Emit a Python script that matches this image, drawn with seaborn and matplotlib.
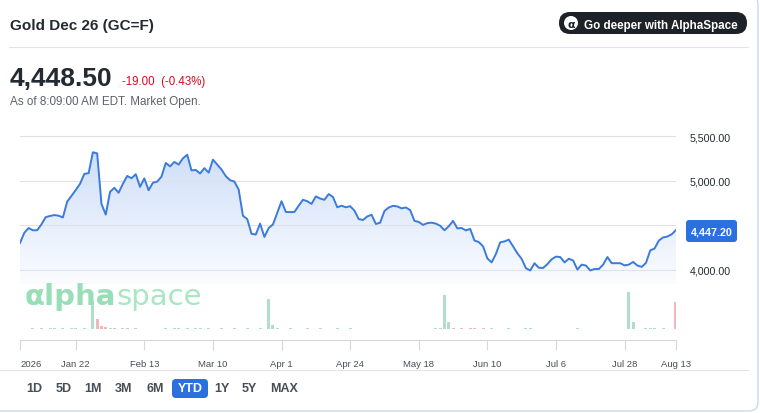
import numpy as np
import pandas as pd
import seaborn as sns
import matplotlib.pyplot as plt
from matplotlib.patches import FancyBboxPatch, Circle
from matplotlib.colors import LinearSegmentedColormap

# ---- data -------------------------------------------------------------
# one settle per trading day, Jan 2 .. Aug 13 2026
price = [
    4302, 4416, 4470, 4445, 4445, 4510, 4592, 4605, 4615, 4608,
    4588, 4765, 4830, 4895, 4965, 5076, 5084, 5318, 5305, 4740,
    4620, 4874, 4920, 4865, 4965, 5053, 5027, 5072, 4931, 5025,
    4893, 4977, 4989, 5046, 5198, 5160, 5210, 5180, 5250, 5290,
    5115, 5120, 5080, 5140, 5090, 5235, 5180, 5125, 5050, 5005,
    4990, 4900, 4607, 4570, 4405, 4397, 4520, 4370, 4470, 4510,
    4640, 4770, 4650, 4648, 4650, 4720, 4786, 4770, 4740, 4824,
    4800, 4786, 4850, 4817, 4702, 4720, 4702, 4714, 4665, 4570,
    4560, 4600, 4618, 4515, 4530, 4660, 4700, 4718, 4712, 4690,
    4700, 4670, 4550, 4538, 4505, 4525, 4530, 4519, 4495, 4445,
    4490, 4550, 4466, 4470, 4443, 4460, 4330, 4313, 4265, 4130,
    4085, 4180, 4310, 4320, 4340, 4265, 4187, 4125, 4020, 3995,
    4076, 4025, 4023, 4065, 4120, 4150, 4145, 4085, 4126, 4107,
    4005, 4060, 4050, 3995, 4011, 4011, 4060, 4145, 4076, 4076,
    4076, 4052, 4060, 4090, 4050, 4035, 4080, 4220, 4240, 4330,
    4365, 4375, 4400, 4447.20,
]

volume = [
    0, 0, 0, 40, 0, 40, 0, 40, 40, 0,
    40, 0, 40, 40, 0, 40, 0, 2700, 1000, 300,
    150, 40, 40, 0, 40, 40, 0, 40, 0, 0,
    0, 0, 0, 0, 40, 0, 40, 40, 0, 40,
    0, 40, 40, 0, 40, 0, 0, 40, 0, 0,
    40, 0, 0, 40, 0, 0, 40, 0, 2900, 400,
    40, 0, 0, 40, 0, 0, 0, 40, 0, 0,
    40, 0, 0, 0, 40, 0, 0, 40, 0, 0,
    0, 0, 0, 0, 0, 0, 0, 0, 0, 0,
    0, 0, 0, 0, 0, 0, 0, 40, 40, 3300,
    700, 40, 0, 40, 0, 40, 40, 0, 40, 0,
    40, 0, 0, 0, 40, 0, 0, 0, 40, 40,
    0, 0, 0, 0, 0, 0, 0, 0, 0, 0,
    40, 0, 0, 0, 0, 0, 0, 0, 0, 0,
    0, 0, 3600, 700, 0, 0, 40, 40, 40, 0,
    40, 0, 0, 2600,
]
down_days = [18, 19, 20, 22, 25, 101, 103, 105, 106, 108, 153]

holidays = ['2026-01-19', '2026-02-16', '2026-04-03', '2026-05-25',
            '2026-06-19', '2026-07-03']
tick_dates = ['2026-01-02', '2026-01-22', '2026-02-13', '2026-03-10',
              '2026-04-01', '2026-04-24', '2026-05-18', '2026-06-10',
              '2026-07-06', '2026-07-28', '2026-08-13']
tick_labels = ['2026', 'Jan 22', 'Feb 13', 'Mar 10', 'Apr 1', 'Apr 24',
               'May 18', 'Jun 10', 'Jul 6', 'Jul 28', 'Aug 13']
price_ticks = [4000, 4500, 5000, 5500]
range_buttons = ['1D', '5D', '1M', '3M', '6M', 'YTD', '1Y', '5Y', 'MAX']

title = 'Gold Dec 26 (GC=F)'
last_price = '4,448.50'
change = '-19.00  (-0.43%)'
as_of = 'As of 8:09:00 AM EDT. Market Open.'

dates = pd.bdate_range('2026-01-02', '2026-08-13', freq='C', holidays=holidays)
df = pd.DataFrame({'day': np.arange(len(dates)), 'date': dates,
                   'price': price, 'volume': volume})
df['dir'] = np.where(df['day'].isin(down_days), 'down', 'up')
tick_pos = [dates.get_loc(pd.Timestamp(d)) for d in tick_dates]

# ---- figure -----------------------------------------------------------
W, H = 760, 414
plt.rcParams['font.family'] = ['Liberation Sans', 'DejaVu Sans']
fig = plt.figure(figsize=(W / 100, H / 100), dpi=100)


def px_rect(x0, y0, x1, y1):
    return [x0 / W, 1 - y1 / H, (x1 - x0) / W, (y1 - y0) / H]


BLUE = '#3a7bdc'
INK = '#232a31'
GREY = '#5b636a'
x_last = len(df) - 1

# price panel
ax = fig.add_axes(px_rect(20, 125, 676, 285))
sns.lineplot(data=df, x='day', y='price', color=BLUE, linewidth=1.4, ax=ax, zorder=3)
y_lo = 4000 - 14 / 0.08933
y_hi = 5500 + 12 / 0.08933

cmap = LinearSegmentedColormap.from_list('fade', ['#fbfcff', '#cfdff9'])
grad = np.linspace(0, 1, 256).reshape(-1, 1)
im = ax.imshow(grad, extent=[0, x_last, y_lo, df['price'].max()], origin='lower',
               aspect='auto', cmap=cmap, zorder=0.2)
fill = ax.fill_between(df['day'], df['price'], y_lo, color='none')
im.set_clip_path(fill.get_paths()[0], transform=ax.transData)

ax.set_xlim(0, x_last)
ax.set_ylim(y_lo, y_hi)
ax.set_yticks(price_ticks)
ax.set_yticklabels(['4,000.00', '', '5,000.00', '5,500.00'])
ax.yaxis.tick_right()
ax.tick_params(axis='y', length=0, pad=10, labelsize=7.7, labelcolor=INK)
ax.set_xticks([])
ax.grid(axis='y', color='#dfe2e6', linewidth=0.8)
ax.set_xlabel('')
ax.set_ylabel('')
for s in ax.spines.values():
    s.set_visible(False)

# volume panel + date axis
vax = fig.add_axes(px_rect(20, 290, 676, 341))
sns.barplot(data=df, x='day', y='volume', hue='dir',
            palette={'up': '#a9e5c5', 'down': '#f4b0b7'},
            native_scale=True, width=0.7, dodge=False, errorbar=None,
            legend=False, ax=vax)
vax.set_xlim(0, x_last)
vax.set_ylim(-1100, 3900)
vax.set_yticks([])
vax.set_xlabel('')
vax.set_ylabel('')
vax.patch.set_alpha(0)
for k in ['top', 'left', 'right']:
    vax.spines[k].set_visible(False)
vax.spines['bottom'].set_color('#d5d8dc')
vax.spines['bottom'].set_linewidth(0.8)
vax.set_xticks(tick_pos, tick_labels)
vax.tick_params(axis='x', length=7.5, width=0.8, color='#d5d8dc',
                labelsize=6.8, labelcolor='#464e56', pad=6)
vax.get_xticklabels()[0].set_ha('left')

# ---- overlay in pixel coordinates --------------------------------------
ov = fig.add_axes([0, 0, 1, 1], zorder=5)
ov.set_xlim(0, W)
ov.set_ylim(H, 0)
ov.axis('off')

ov.add_patch(FancyBboxPatch((-20, -4), 778, 416, boxstyle='round,pad=0,rounding_size=9',
                            facecolor='none', edgecolor='#cbd7ec', linewidth=1))
ov.plot([9, 748], [48, 48], color='#e0e4e9', linewidth=0.8)
ov.plot([0, 748], [371, 371], color='#e0e4e9', linewidth=0.8)

ov.text(10, 30, title, fontsize=11, fontweight='bold', color=INK, va='baseline')

ov.add_patch(FancyBboxPatch((559, 13), 188, 22, boxstyle='round,pad=0,rounding_size=11',
                            facecolor='#1d2228', edgecolor='none'))
ov.add_patch(Circle((571, 24), 7, facecolor='white', edgecolor='none'))
ov.text(571, 24.5, 'α', fontsize=8, fontweight='bold', color='#1d2228',
        ha='center', va='center', family=['DejaVu Sans'])
ov.text(584, 28.5, 'Go deeper with AlphaSpace', fontsize=8.4, fontweight='bold',
        color='white', va='baseline')

ov.text(10, 86, last_price, fontsize=19, fontweight='bold', color=INK, va='baseline')
ov.text(122, 84.5, change, fontsize=8.3, color='#d60a22', va='baseline')
ov.text(10, 105, as_of, fontsize=8.4, color=GREY, va='baseline')

ov.add_patch(FancyBboxPatch((686, 221), 51, 22, boxstyle='round,pad=0,rounding_size=3',
                            facecolor='#2c6fdf', edgecolor='none'))
ov.text(711.5, 232.5, f'{price[-1]:,.2f}', fontsize=7.7, fontweight='bold',
        color='white', ha='center', va='center')

# watermark
wm = ov.text(25, 305, 'αlpha', fontsize=21, fontweight='bold', color='#98dfb8',
             va='baseline', family=['DejaVu Sans'])
fig.canvas.draw()
bb = wm.get_window_extent().transformed(ov.transData.inverted())
ov.text(bb.x1, 305, 'space', fontsize=21, color='#a8e6c4', va='baseline',
        family=['DejaVu Sans'])

# range buttons
btn_x = [34.5, 63.5, 93, 123.5, 155, 190, 221.5, 249.5, 284.5]
for lab, bx in zip(range_buttons, btn_x):
    col = '#464e56'
    if lab == 'YTD':
        ov.add_patch(FancyBboxPatch((172, 380), 36, 19, boxstyle='round,pad=0,rounding_size=4',
                                    facecolor='#2c6fdf', edgecolor='none'))
        col = 'white'
    ov.text(bx, 389.5, lab, fontsize=9, fontweight='bold', color=col,
            ha='center', va='center')

fig.savefig('out.png', dpi=100)
